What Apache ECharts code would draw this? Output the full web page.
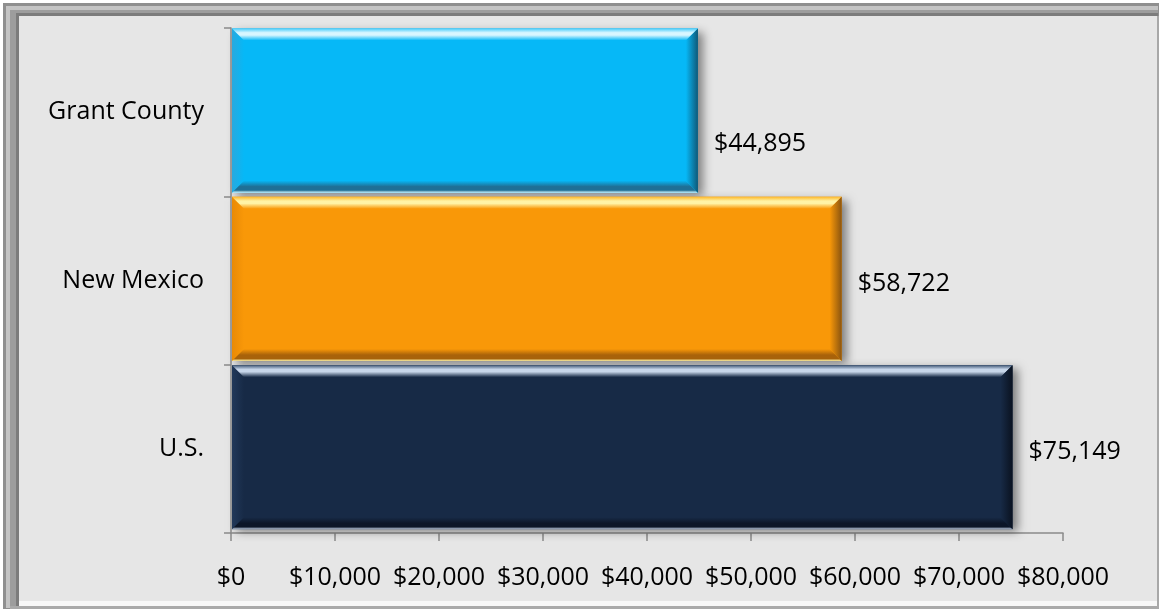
<!DOCTYPE html>
<html>
<head>
<meta charset="utf-8">
<script src="https://cdn.jsdelivr.net/npm/echarts@6/dist/echarts.min.js"></script>
<style>
  html, body { margin: 0; padding: 0; background: #ffffff; }
  #chart { width: 1161px; height: 611px; }
</style>
</head>
<body>
<div id="chart"></div>
<script>
// Median household income by area
const categories = ['Grant County', 'New Mexico', 'U.S.'];
const incomes = [44895, 58722, 75149];
const barColors = ['#06b8f7', '#f99808', '#172a46'];
const xTicks = [0, 10000, 20000, 30000, 40000, 50000, 60000, 70000, 80000];

const FONT = '"Open Sans", "Noto Sans", sans-serif';
const FONT_SIZE = 25;
const money = v => '$' + Math.round(v).toLocaleString('en-US');

// light / dark tints for each bar's bevelled edges
const bevels = [
  { hi: '#d8f6ff', mid: '#48cdfb', lo: '#1f6f95', side: '#0f5877', left: '#28a9de' },
  { hi: '#fff3a6', mid: '#fdb82a', lo: '#a8620a', side: '#8a5410', left: '#e98a06' },
  { hi: '#c7d6ea', mid: '#3f5776', lo: '#0c1628', side: '#0a1220', left: '#22395a' }
];

function renderBar(params, api) {
  const i = params.dataIndex;
  const v = api.value(1);
  const p0 = api.coord([0, api.value(0)]);
  const p1 = api.coord([v, api.value(0)]);
  const band = api.size([0, 1])[1];
  const h = band * 0.975;
  const x0 = p0[0] + 1, x1 = p1[0];
  const y0 = p0[1] - band / 2 + 0.5, y1 = y0 + h;
  const b = 12;
  const c = barColors[i], t = bevels[i];
  const lg = (x, y, x2, y2, stops) => ({ type: 'linear', x, y, x2, y2, colorStops: stops });
  return {
    type: 'group',
    children: [
      { type: 'rect', shape: { x: x0, y: y0, width: x1 - x0, height: h },
        style: { fill: c, shadowBlur: 9, shadowOffsetX: 5, shadowOffsetY: 3, shadowColor: 'rgba(0,0,0,0.45)' } },
      // left edge
      { type: 'polygon', shape: { points: [[x0, y0], [x0 + b, y0 + b], [x0 + b, y1 - b], [x0, y1]] },
        style: { fill: lg(0, 0, 1, 0, [{ offset: 0, color: t.left }, { offset: 1, color: c }]) } },
      // top edge
      { type: 'polygon', shape: { points: [[x0, y0], [x1, y0], [x1 - b, y0 + b], [x0 + b, y0 + b]] },
        style: { fill: lg(0, 0, 0, 1, [{ offset: 0, color: t.mid }, { offset: 0.35, color: t.hi }, { offset: 0.55, color: t.hi }, { offset: 1, color: c }]) } },
      // bottom edge
      { type: 'polygon', shape: { points: [[x0, y1], [x1, y1], [x1 - b, y1 - b], [x0 + b, y1 - b]] },
        style: { fill: lg(0, 0, 0, 1, [{ offset: 0, color: c }, { offset: 0.5, color: t.lo }, { offset: 0.8, color: t.lo }, { offset: 1, color: t.hi }]) } },
      // right edge
      { type: 'polygon', shape: { points: [[x1, y0], [x1, y1], [x1 - b, y1 - b], [x1 - b, y0 + b]] },
        style: { fill: lg(0, 0, 1, 0, [{ offset: 0, color: c }, { offset: 1, color: t.side }]) } },
      // value label
      { type: 'text', x: x1 + 16, y: p0[1] + (i === 0 ? 32 : 3),
        style: { text: money(v), fill: '#000', font: FONT_SIZE + 'px ' + FONT, textVerticalAlign: 'middle', textAlign: 'left' } }
    ]
  };
}

const chart = echarts.init(document.getElementById('chart'), null, { renderer: 'canvas' });
chart.setOption({
  animation: false,
  backgroundColor: '#ffffff',
  graphic: [
    // bevelled picture frame
    { type: 'rect', shape: { x: 3, y: 3, width: 1156, height: 606 }, style: { fill: '#8f8f8f' }, z: -10 },
    { type: 'rect', shape: { x: 6, y: 6, width: 1152, height: 602 }, style: { fill: '#c4c4c4' }, z: -10 },
    { type: 'rect', shape: { x: 10, y: 10, width: 1148, height: 597 }, style: { fill: '#9d9d9d' }, z: -10 },
    { type: 'rect', shape: { x: 16, y: 13, width: 1142, height: 594 }, style: { fill: '#7c7c7c' }, z: -10 },
    { type: 'rect', shape: { x: 19, y: 16, width: 1139, height: 592 }, style: { fill: '#f7f7f7' }, z: -10 },
    { type: 'rect', shape: { x: 19, y: 16, width: 1138, height: 585 }, style: { fill: '#e6e6e6' }, z: -10 },
    { type: 'rect', shape: { x: 1157, y: 16, width: 2, height: 592 }, style: { fill: '#a8a8a8' }, z: -10 },
    { type: 'rect', shape: { x: 10, y: 606, width: 1149, height: 3 }, style: { fill: '#a9a9a9' }, z: -10 }
  ],
  grid: { left: 231, right: 98, top: 28, bottom: 78, containLabel: false },
  xAxis: {
    type: 'value', min: 0, max: 80000, interval: 10000,
    axisLine: { show: true, lineStyle: { color: '#8a8a8a', width: 1.5 } },
    axisTick: { show: true, length: 8, lineStyle: { color: '#8a8a8a', width: 1.5 } },
    splitLine: { show: false },
    axisLabel: { margin: 32, color: '#000', fontSize: FONT_SIZE, fontFamily: FONT, formatter: v => money(v) }
  },
  yAxis: {
    type: 'category', data: categories, inverse: true,
    axisLine: { show: true, lineStyle: { color: '#8a8a8a', width: 1.5 } },
    axisTick: { show: true, length: 7, lineStyle: { color: '#8a8a8a', width: 1.5 } },
    axisLabel: { margin: 27, color: '#000', fontSize: FONT_SIZE, fontFamily: FONT }
  },
  series: [{
    type: 'custom',
    renderItem: renderBar,
    encode: { x: 1, y: 0 },
    data: incomes.map((v, i) => [i, v]),
    z: 3
  }]
});
</script>
</body>
</html>
